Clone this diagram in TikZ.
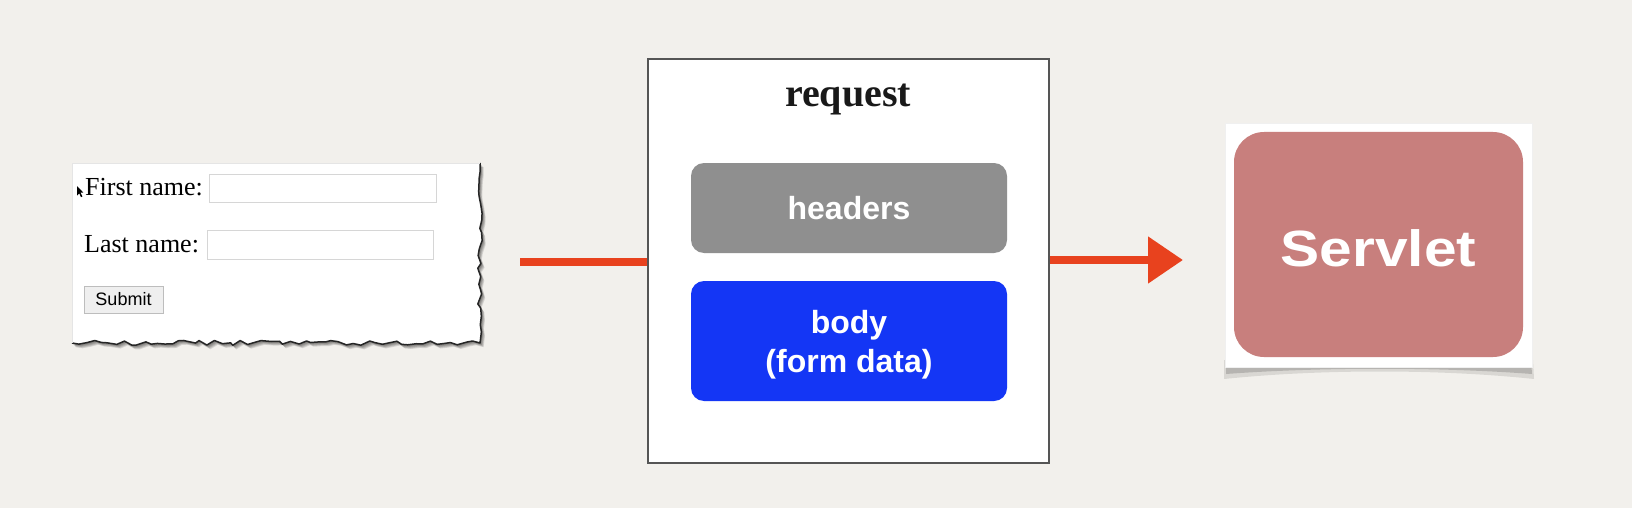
\documentclass[tikz,border=0pt]{standalone}
\usepackage{fontspec}
\setmainfont{Liberation Serif}
\setsansfont{Liberation Sans}
\usetikzlibrary{decorations.pathmorphing,arrows.meta}
\definecolor{bg}{HTML}{F2F0EC}
\definecolor{arrowc}{HTML}{E8421E}
\definecolor{hdrgray}{HTML}{8F8F8F}
\definecolor{bodyblue}{HTML}{1436F5}
\definecolor{servc}{HTML}{C87F7D}
\definecolor{reqgray}{HTML}{555555}
\definecolor{fieldgray}{HTML}{D6D6D6}
\definecolor{btnfill}{HTML}{EFEFEF}
\definecolor{btnline}{HTML}{BDBDBD}
\begin{document}
\begin{tikzpicture}[x=1pt,y=-1pt,
  jag/.style={decoration={random steps,segment length=7pt,amplitude=2.6pt}},
  formtext/.style={font=\rmfamily\fontsize{26}{30}\selectfont,inner sep=0pt,anchor=base west},
  field/.style={draw=fieldgray,fill=white,line width=1pt},
  pill/.style={rounded corners=13pt,inner sep=0pt,text=white,font=\sffamily\bfseries\fontsize{32}{39}\selectfont},
  flow/.style={draw=arrowc,line width=8pt}]
\useasboundingbox (0,0) rectangle (1632,508);
\fill[bg] (0,0) rectangle (1632,508);

% ---- form panel with torn edges ----
\foreach \s in {6,5,4,3,2}{
  \pgfmathsetseed{11}
  \fill[black,opacity=0.11,shift={(\s*0.6,\s*0.7)}] (72,163) -- (480,163) decorate[jag]{-- (480,343) -- (72,343)} -- cycle;
}
\pgfmathsetseed{11}
\fill[white] (72,163) -- (480,163) decorate[jag]{-- (480,343) -- (72,343)} -- cycle;
\pgfmathsetseed{11}
\draw[black!85,line width=1.5pt,line join=round] (480,163) decorate[jag]{-- (480,343) -- (72,343)};
\draw[black!10,line width=0.6pt] (72,343) -- (72,163) -- (480,163);

\node[formtext] (fn) at (85,195) {First name:};
\node[field,minimum width=227pt,minimum height=28pt,inner sep=0pt] (fnbox) at (322.5,188) {};
\node[formtext] (ln) at (84,252) {Last name:};
\node[field,minimum width=226pt,minimum height=29pt,inner sep=0pt] (lnbox) at (320,244.5) {};
\node[draw=btnline,fill=btnfill,line width=1pt,minimum width=79pt,minimum height=27pt,inner sep=0pt,
      font=\sffamily\fontsize{18}{20}\selectfont] (submit) at (123.5,299.5) {Submit};
\fill[black] (77,186) -- (77,195.5) -- (79.2,193.3) -- (81,197.2) -- (82.4,196.5) -- (80.6,192.7) -- (83.4,192.7) -- cycle;

% ---- connectors ----
\coordinate (a1) at (520,262);
\coordinate (tip) at (1183,260);

% ---- request box ----
\node[draw=reqgray,line width=2.5pt,fill=white,minimum width=401pt,minimum height=404pt,inner sep=0pt] (req) at (848.5,261) {};
\node[font=\rmfamily\bfseries\fontsize{40}{44}\selectfont,inner sep=0pt,anchor=base,text=black!90] (reqt) at (848,107) {request};
\node[pill,fill=hdrgray,minimum width=316pt,minimum height=90pt] (hdr) at (849,208) {headers};
\node[pill,fill=bodyblue,minimum width=316pt,minimum height=120pt] (body) at (849,341) {};
\node[pill,anchor=base] (bodyt1) at (849,333) {body};
\node[pill,anchor=base] (bodyt2) at (849,372) {(form data)};

\draw[flow] (a1) -- (req.west |- a1);
\draw[flow,-{Triangle[length=35pt,width=45pt]}] (req.east |- tip) -- (tip);

% ---- servlet ----
\fill[black,opacity=0.10] (1224,360) -- (1533,360) -- (1534,379) .. controls (1440,369) and (1320,369) .. (1224,379) -- cycle;
\fill[black,opacity=0.16] (1226,360) -- (1531,360) -- (1532,374) .. controls (1440,367) and (1320,367) .. (1226,374) -- cycle;
\node[fill=white,draw=black!6,line width=0.6pt,minimum width=307pt,minimum height=244pt,inner sep=0pt] (frame) at (1378.5,245) {};
\node[fill=servc,rounded corners=30pt,minimum width=289pt,minimum height=225pt,inner sep=0pt] (serv) at (1378.5,244.5) {};
\node[inner sep=0pt,anchor=base,text=white,font=\sffamily\bfseries\fontsize{51}{56}\selectfont] (servt) at (1378.5,266) {\scalebox{1.15}[1]{Servlet}};
\end{tikzpicture}
\end{document}
